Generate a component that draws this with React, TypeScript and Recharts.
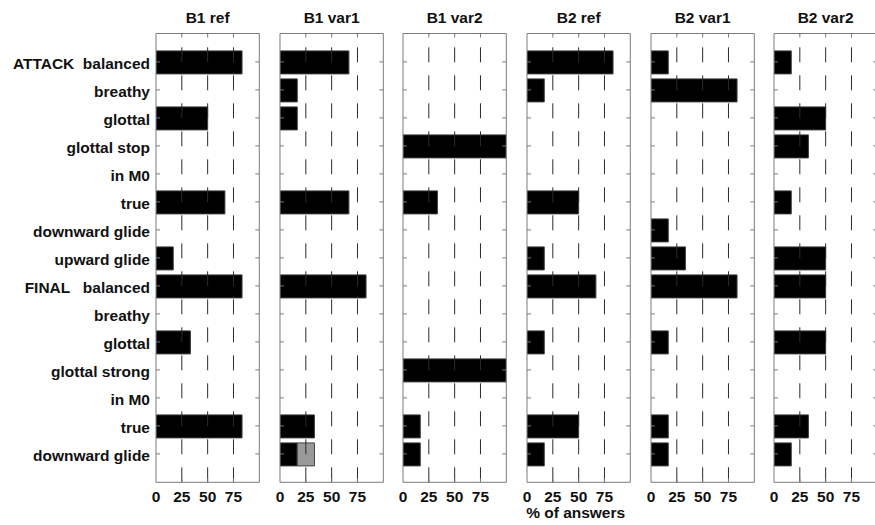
import React from 'react';
import { BarChart, Bar, XAxis, YAxis, ReferenceLine } from 'recharts';

const categories = [
  'ATTACK  balanced', 'breathy', 'glottal', 'glottal stop', 'in M0', 'true',
  'downward glide', 'upward glide', 'FINAL   balanced', 'breathy', 'glottal',
  'glottal strong', 'in M0', 'true', 'downward glide',
];
const panelTitles = ['B1 ref', 'B1 var1', 'B1 var2', 'B2 ref', 'B2 var1', 'B2 var2'];

const b1Ref = [83.3, 0, 50, 0, 0, 66.7, 0, 16.7, 83.3, 0, 33.3, 0, 0, 83.3, 0];
const b1Var1 = [66.7, 16.7, 16.7, 0, 0, 66.7, 0, 0, 83.3, 0, 0, 0, 0, 33.3, 16.7];
const b1Var1Gray = [0, 0, 0, 0, 0, 0, 0, 0, 0, 0, 0, 0, 0, 0, 16.7];
const b1Var2 = [0, 0, 0, 100, 0, 33.3, 0, 0, 0, 0, 0, 100, 0, 16.7, 16.7];
const b2Ref = [83.3, 16.7, 0, 0, 0, 50, 0, 16.7, 66.7, 0, 16.7, 0, 0, 50, 16.7];
const b2Var1 = [16.7, 83.3, 0, 0, 0, 0, 16.7, 33.3, 83.3, 0, 16.7, 0, 0, 16.7, 16.7];
const b2Var2 = [16.7, 0, 50, 33.3, 0, 16.7, 0, 50, 50, 0, 50, 0, 0, 33.3, 16.7];
const noGray = [0, 0, 0, 0, 0, 0, 0, 0, 0, 0, 0, 0, 0, 0, 0];

const xTicks = [0, 25, 50, 75];
const gridValues = [25, 50, 75];
const xAxisTitle = '% of answers';

const panelValues = [b1Ref, b1Var1, b1Var2, b2Ref, b2Var1, b2Var2];
const panelGray = [noGray, b1Var1Gray, noGray, noGray, noGray, noGray];

const FONT = "'Liberation Sans', Arial, sans-serif";
const FS = 15.5;
const FW = 'bold';
const TXT = '#111';
const BORDER = '#7a7a7a';
const PLOT_TOP = 33.5;
const PLOT_BOTTOM = 482.3;
const PLOT_W = 103.3;
const FIRST_LEFT = 156;
const STEP = 123.65;
const SIDE = 12;
const H = 525;
const AX = 1;

const buildRows = (vals: number[], gray: number[]) =>
  categories.map((c, i) => ({
    idx: i,
    v: vals[i] > 0 ? vals[i] : null,
    g: gray[i] > 0 ? gray[i] : null,
  }));

const BottomTick = (props: any) => {
  const { x, y, payload } = props;
  return (
    <g>
      {payload.value !== 0 && <line x1={x} y1={y} x2={x} y2={y - 4} stroke={BORDER} />}
      <text x={x} y={y + 19.5} textAnchor="middle" fontFamily={FONT} fontSize={FS} fontWeight={FW} fill={TXT}>
        {payload.value}
      </text>
    </g>
  );
};

const TopTick = (props: any) => {
  const { x, y, payload } = props;
  if (payload.value === 0) return <g />;
  return <line x1={x} y1={y} x2={x} y2={y + 4} stroke={BORDER} />;
};

const makeLeftTick = (showLabels: boolean) => (props: any) => {
  const { x, y, payload } = props;
  return (
    <g>
      <line x1={x} y1={y} x2={x + 4} y2={y} stroke={BORDER} />
      {showLabels && (
        <text
          x={x - 6}
          y={y + 7}
          textAnchor="end"
          fontFamily={FONT}
          fontSize={FS}
          fontWeight={FW}
          fill={TXT}
          style={{ whiteSpace: 'pre' }}
        >
          {categories[payload.value]}
        </text>
      )}
    </g>
  );
};

const RightTick = (props: any) => {
  const { x, y } = props;
  return <line x1={x} y1={y} x2={x - 4} y2={y} stroke={BORDER} />;
};

const Panel = ({ i }: { i: number }) => {
  const plotLeft = FIRST_LEFT + i * STEP;
  const first = i === 0;
  const left = first ? 0 : plotLeft - SIDE;
  const width = first ? plotLeft + PLOT_W + SIDE : PLOT_W + 2 * SIDE;
  const data = buildRows(panelValues[i], panelGray[i]);
  const pad = (PLOT_BOTTOM - PLOT_TOP - 15 * 28) / 2;
  return (
    <div style={{ position: 'absolute', left, top: 0 }}>
      <BarChart
        width={width}
        height={H}
        data={data}
        layout="vertical"
        margin={{
          top: PLOT_TOP - AX,
          bottom: H - PLOT_BOTTOM - AX,
          left: (first ? plotLeft : SIDE) - AX,
          right: SIDE - AX,
        }}
      >
        <XAxis
          xAxisId={0}
          type="number"
          domain={[0, 100]}
          ticks={xTicks}
          height={AX}
          tickSize={0}
          tickMargin={0}
          tickLine={false}
          axisLine={{ stroke: BORDER }}
          tick={(p: any) => <BottomTick {...p} />}
          interval={0}
          allowDataOverflow
          label={
            i === 3
              ? {
                  content: (lp: any) => {
                    const vb = lp.viewBox || {};
                    return (
                      <text
                        x={(vb.x ?? 0) + (vb.width ?? 0) / 2 - 3}
                        y={518}
                        textAnchor="middle"
                        fontFamily={FONT}
                        fontSize={FS}
                        fontWeight={FW}
                        fill={TXT}
                      >
                        {xAxisTitle}
                      </text>
                    );
                  },
                }
              : undefined
          }
        />
        <XAxis
          xAxisId="top"
          orientation="top"
          type="number"
          domain={[0, 100]}
          ticks={xTicks}
          height={AX}
          tickSize={0}
          tickMargin={0}
          tickLine={false}
          axisLine={{ stroke: BORDER }}
          tick={(p: any) => <TopTick {...p} />}
          interval={0}
          allowDataOverflow
          label={{
            content: (lp: any) => {
              const vb = lp.viewBox || {};
              return (
                <text
                  x={(vb.x ?? 0) + (vb.width ?? 0) / 2}
                  y={22.7}
                  textAnchor="middle"
                  fontFamily={FONT}
                  fontSize={FS}
                  fontWeight={FW}
                  fill={TXT}
                >
                  {panelTitles[i]}
                </text>
              );
            },
          }}
        />
        <YAxis
          yAxisId={0}
          type="category"
          dataKey="idx"
          width={AX}
          tickSize={0}
          tickMargin={0}
          tickLine={false}
          interval={0}
          padding={{ top: pad, bottom: pad }}
          axisLine={{ stroke: BORDER }}
          tick={makeLeftTick(first)}
        />
        <YAxis
          yAxisId="right"
          orientation="right"
          type="category"
          dataKey="idx"
          width={AX}
          tickSize={0}
          tickMargin={0}
          tickLine={false}
          interval={0}
          padding={{ top: pad, bottom: pad }}
          axisLine={{ stroke: BORDER }}
          tick={(p: any) => <RightTick {...p} />}
        />
        <Bar
          dataKey="v"
          stackId="s"
          xAxisId={0}
          yAxisId={0}
          fill="#000"
          stroke="#3a3a3a"
          strokeWidth={1}
          barSize={23}
          isAnimationActive={false}
        />
        <Bar
          dataKey="g"
          stackId="s"
          xAxisId={0}
          yAxisId={0}
          fill="#999"
          stroke="#444"
          strokeWidth={1}
          barSize={23}
          isAnimationActive={false}
        />
        {gridValues.map((g) => (
          <ReferenceLine
            key={g}
            x={g}
            xAxisId={0}
            yAxisId={0}
            stroke="#2a2a2a"
            strokeWidth={1}
            strokeDasharray="15 13"
          />
        ))}
      </BarChart>
    </div>
  );
}

export default function App() {
  return (
    <div
      style={{
        position: 'absolute',
        left: 0,
        top: 0,
        width: 875,
        height: 525,
        overflow: 'hidden',
        background: '#fff',
      }}
    >
      {panelTitles.map((t, i) => (
        <Panel key={t} i={i} />
      ))}
    </div>
  );
}
